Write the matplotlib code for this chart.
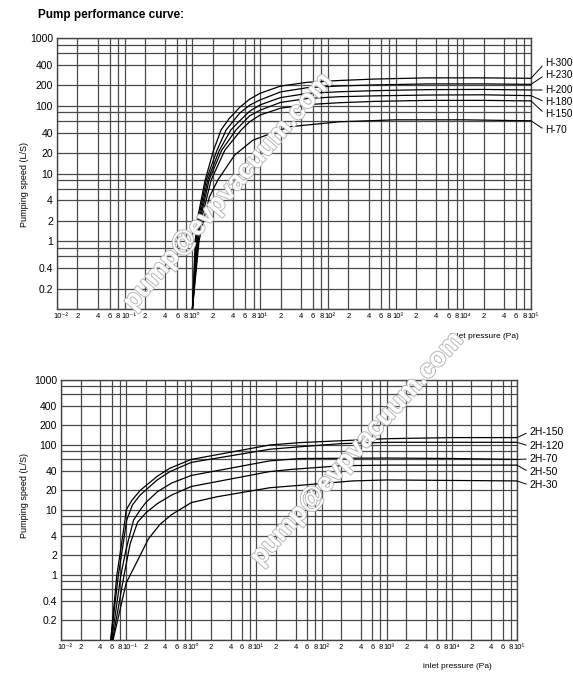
import matplotlib
matplotlib.use("Agg")
import matplotlib.pyplot as plt
import matplotlib.patheffects as pe
from matplotlib.ticker import NullLocator

plt.rcParams['font.family'] = ['Liberation Sans', 'DejaVu Sans']

# --- ejes comunes ---
x_grid = [1e-2, 2e-2, 4e-2, 6e-2, 8e-2,
          1e-1, 2e-1, 4e-1, 6e-1, 8e-1,
          1e0, 2e0, 4e0, 6e0, 8e0,
          1e1, 2e1, 4e1, 6e1, 8e1,
          1e2, 2e2, 4e2, 6e2, 8e2,
          1e3, 2e3, 4e3, 6e3, 8e3,
          1e4, 2e4, 4e4, 6e4, 8e4, 1e5]
decade_labels = ["10⁻²", "10⁻¹", "10⁰", "10¹", "10²", "10³", "10⁴", "10⁵"]
minor_labels = ["2", "4", "6", "8"]
x_labels = []
for d in decade_labels[:-1]:
    x_labels += [d] + minor_labels
x_labels.append(decade_labels[-1])

y_grid = [0.1, 0.2, 0.4, 0.6, 0.8, 1, 2, 4, 6, 8, 10, 20, 40, 60, 80,
          100, 200, 400, 600, 800, 1000]
y_ticks = [0.2, 0.4, 1, 2, 4, 10, 20, 40, 100, 200, 400, 1000]
y_labels = ["0.2", "0.4", "1", "2", "4", "10", "20", "40", "100", "200", "400", "1000"]

# --- serie H (grafico superior) ---
h_names = ["H-300", "H-230", "H-200", "H-180", "H-150", "H-70"]
h300_p = [1.0, 1.1, 1.17, 1.54, 2.05, 2.65, 3.5, 5, 7, 10, 20, 50, 150, 500, 3000, 2e4, 1e5]
h300_s = [0.1, 1, 2, 8, 22, 44, 65, 95, 125, 153, 195, 222, 236, 248, 258, 258, 254]
h230_p = [1.0, 1.13, 1.21, 1.6, 2.3, 3.15, 5, 7, 10, 20, 50, 150, 500, 3000, 2e4, 1e5]
h230_s = [0.1, 1, 2, 8, 22, 44, 78, 102, 122, 160, 185, 196, 203, 210, 210, 207]
h200_p = [1.0, 1.16, 1.25, 1.68, 2.5, 3.7, 5, 7, 10, 20, 50, 150, 500, 3000, 2e4, 1e5]
h200_s = [0.1, 1, 2, 8, 22, 44, 60, 83, 103, 132, 152, 161, 167, 173, 174, 171]
h180_p = [1.0, 1.19, 1.29, 1.76, 2.7, 4.4, 7, 10, 20, 50, 150, 500, 3000, 2e4, 1e5]
h180_s = [0.1, 1, 2, 8, 22, 44, 71, 86, 112, 128, 136, 140, 144, 145, 141]
h150_p = [1.0, 1.22, 1.34, 1.89, 3.0, 5.25, 7, 10, 20, 50, 150, 500, 3000, 2e4, 1e5]
h150_s = [0.1, 1, 2, 8, 22, 44, 58, 73, 92, 104, 111, 116, 120, 120, 118]
h70_p = [1.0, 1.25, 1.45, 1.78, 2.37, 4.2, 7.8, 10, 27, 148, 1000, 1e4, 1e5]
h70_s = [0.1, 1, 2, 4.5, 8, 18.7, 31, 34, 49, 58, 62, 62, 60]
h_label_y = [63, 75, 90, 102, 114, 130]

# --- serie 2H (grafico inferior) ---
h2_names = ["2H-150", "2H-120", "2H-70", "2H-50", "2H-30"]
h2_150_p = [0.058, 0.072, 0.085, 0.096, 0.1, 0.122, 0.164, 0.3, 0.47, 1, 16, 47, 1000, 1e4, 1e5]
h2_150_s = [0.1, 1, 3, 7, 10, 14, 20, 33, 44, 60, 100, 109, 125, 130, 130]
h2_120_p = [0.058, 0.076, 0.09, 0.102, 0.125, 0.164, 0.3, 0.47, 1, 16, 47, 200, 1000, 1e5]
h2_120_s = [0.1, 1, 3, 7, 12, 17, 29, 39, 54, 86, 94, 105, 110, 110]
h2_70_p = [0.06, 0.083, 0.1, 0.13, 0.164, 0.2, 0.3, 0.5, 1, 16, 47, 1000, 1e4, 1e5]
h2_70_s = [0.1, 1, 2.5, 7, 10, 13, 19, 26, 34, 57, 62, 63, 62, 60]
h2_50_p = [0.062, 0.093, 0.115, 0.15, 0.2, 0.3, 0.5, 1, 16, 33, 200, 1000, 1e5]
h2_50_s = [0.1, 1, 3, 6.5, 9, 12.5, 17, 23, 39, 42, 48, 49, 49]
h2_30_p = [0.063, 0.1, 0.164, 0.22, 0.33, 0.5, 1, 2.5, 16, 47, 300, 1000, 1e4, 1e5]
h2_30_s = [0.1, 0.75, 2, 3.6, 6, 8.5, 13, 16, 22, 24, 28, 29, 28.5, 28]
h2_label_y = [432, 446, 459, 472, 485]

W, H = 573, 683
fig = plt.figure(figsize=(W / 100, H / 100), dpi=100)


def px_axes(left, top, right, bottom):
    return fig.add_axes([left / W, 1 - bottom / H, (right - left) / W, (bottom - top) / H])


def px_text(x, y, s, **kw):
    return fig.text(x / W, 1 - y / H, s, **kw)


def draw_panel(ax, curves, names, label_x, label_ys, label_size):
    ax.set_xscale('log')
    ax.set_yscale('log')
    ax.set_xlim(1e-2, 1e5)
    ax.set_ylim(0.1, 1000)
    for v in x_grid:
        ax.axvline(v, color='#4a4a4a', lw=0.9, zorder=1)
    for v in y_grid:
        ax.axhline(v, color='#4a4a4a', lw=0.9, zorder=1)

    # etiquetas del eje x a mano (las decadas empiezan en la linea)
    ax.set_xticks([])
    ax.xaxis.set_minor_locator(NullLocator())
    for i, (v, lab) in enumerate(zip(x_grid, x_labels)):
        is_decade = (i % 5 == 0)
        ax.annotate(lab, xy=(v, 0), xycoords=('data', 'axes fraction'),
                    xytext=(-2.5 if is_decade else 0, -3), textcoords='offset points',
                    ha='left' if is_decade else 'center', va='top',
                    fontsize=5.5, annotation_clip=False)

    ax.set_yticks(y_ticks, y_labels)
    ax.yaxis.set_minor_locator(NullLocator())
    ax.tick_params(length=0)
    ax.tick_params(axis='y', pad=3, labelsize=7.5)
    for sp in ax.spines.values():
        sp.set_color('#444444')
        sp.set_linewidth(1.0)

    for (p, s), name, ly in zip(curves, names, label_ys):
        ax.plot(p, s, color='black', lw=0.9, zorder=3)
        ax.annotate(name, xy=(p[-1], s[-1]), xycoords='data',
                    xytext=(label_x, H - ly), textcoords='figure pixels',
                    ha='left', va='center', fontsize=label_size,
                    annotation_clip=False,
                    arrowprops=dict(arrowstyle='-', color='black', lw=0.7,
                                    shrinkA=0, shrinkB=0, relpos=(0, 0.5)))


ax1 = px_axes(57, 38, 531, 309)
draw_panel(ax1,
           [(h300_p, h300_s), (h230_p, h230_s), (h200_p, h200_s),
            (h180_p, h180_s), (h150_p, h150_s), (h70_p, h70_s)],
           h_names, 545, h_label_y, 7.2)

ax2 = px_axes(61, 380, 517, 640)
draw_panel(ax2,
           [(h2_150_p, h2_150_s), (h2_120_p, h2_120_s), (h2_70_p, h2_70_s),
            (h2_50_p, h2_50_s), (h2_30_p, h2_30_s)],
           h2_names, 529, h2_label_y, 7.5)

# textos
px_text(38, 15, "Pump performance curve:", fontsize=8.5, fontweight='bold', va='center')
px_text(25, 185, "Pumping speed (L/S)", fontsize=6.5, rotation=90, ha='center', va='center')
px_text(25, 495, "Pumping speed (L/S)", fontsize=6.5, rotation=90, ha='center', va='center')
px_text(450, 337, "inlet pressure (Pa)", fontsize=6, va='center')
px_text(423, 667, "inlet pressure (Pa)", fontsize=6, va='center')

# marca de agua
for cx, cy, ang in [(228, 192, 49), (357, 449, 48)]:
    px_text(cx, cy, "pump@evpvacuum.com", fontsize=19, fontweight='bold',
            color='white', rotation=ang, rotation_mode='anchor',
            ha='center', va='center', zorder=10,
            path_effects=[pe.Stroke(linewidth=1.4, foreground='#b8b8b8'), pe.Normal()])

fig.savefig("out.png", dpi=100)
